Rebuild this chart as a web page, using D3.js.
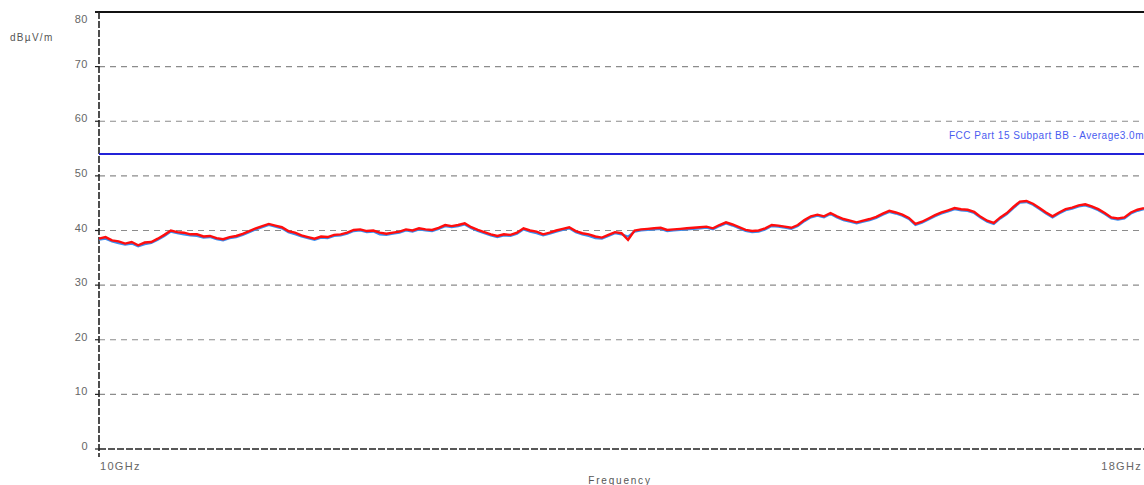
<!DOCTYPE html>
<html><head><meta charset="utf-8">
<script src="https://cdn.jsdelivr.net/npm/d3@7"></script>
<style>html,body{margin:0;padding:0;background:#fff;}svg{display:block;font-family:"Liberation Sans",Arial,sans-serif;}</style>
</head><body>
<svg id="c" width="1144" height="485"></svg>
<script>
const yTicks = [0,10,20,30,40,50,60,70,80];
const xLabels = [{f:10,text:"10GHz"},{f:18,text:"18GHz"}];
const limitValue = 54;
const limitLabel = "FCC Part 15 Subpart BB - Average3.0m";
const freqs = [10.00,10.05,10.10,10.15,10.20,10.25,10.30,10.35,10.40,10.45,10.50,10.55,10.60,10.65,10.70,10.75,10.80,10.85,10.90,10.95,
11.00,11.05,11.10,11.15,11.20,11.25,11.30,11.35,11.40,11.45,11.50,11.55,11.60,11.65,11.70,11.75,11.80,11.85,11.90,11.95,
12.00,12.05,12.10,12.15,12.20,12.25,12.30,12.35,12.40,12.45,12.50,12.55,12.60,12.65,12.70,12.75,12.80,12.85,12.90,12.95,
13.00,13.05,13.10,13.15,13.20,13.25,13.30,13.35,13.40,13.45,13.50,13.55,13.60,13.65,13.70,13.75,13.80,13.85,13.90,13.95,
14.00,14.05,14.10,14.15,14.20,14.25,14.30,14.35,14.40,14.45,14.50,14.55,14.60,14.65,14.70,14.75,14.80,14.85,14.90,14.95,
15.00,15.05,15.10,15.15,15.20,15.25,15.30,15.35,15.40,15.45,15.50,15.55,15.60,15.65,15.70,15.75,15.80,15.85,15.90,15.95,
16.00,16.05,16.10,16.15,16.20,16.25,16.30,16.35,16.40,16.45,16.50,16.55,16.60,16.65,16.70,16.75,16.80,16.85,16.90,16.95,
17.00,17.05,17.10,17.15,17.20,17.25,17.30,17.35,17.40,17.45,17.50,17.55,17.60,17.65,17.70,17.75,17.80,17.85,17.90,17.95,18.00];
const redVals = [38.5,38.8,38.2,38.0,37.6,37.9,37.3,37.8,37.9,38.5,39.2,40.0,39.7,39.6,39.3,39.3,38.9,39.0,38.6,38.4,
38.8,39.0,39.4,39.9,40.4,40.8,41.2,40.9,40.6,39.9,39.6,39.1,38.8,38.5,38.9,38.8,39.2,39.3,39.6,40.1,
40.2,39.9,40.0,39.6,39.4,39.6,39.8,40.2,40.0,40.4,40.2,40.1,40.5,41.0,40.8,41.0,41.3,40.6,40.1,39.7,
39.3,39.0,39.3,39.2,39.6,40.4,40.0,39.8,39.3,39.6,40.0,40.3,40.6,39.9,39.5,39.3,38.9,38.7,39.2,39.7,
39.5,38.3,40.0,40.2,40.3,40.4,40.5,40.1,40.2,40.3,40.4,40.5,40.6,40.7,40.4,41.0,41.5,41.1,40.6,40.1,
39.9,40.0,40.4,41.0,40.9,40.7,40.5,41.0,41.9,42.6,42.9,42.6,43.2,42.6,42.1,41.8,41.5,41.8,42.1,42.5,
43.1,43.6,43.3,42.9,42.3,41.2,41.6,42.2,42.8,43.3,43.7,44.1,43.9,43.8,43.4,42.5,41.8,41.4,42.4,43.2,
44.3,45.3,45.4,44.9,44.1,43.3,42.6,43.3,43.9,44.2,44.6,44.8,44.4,43.9,43.2,42.4,42.2,42.4,43.3,43.8,44.1];
const blueVals = [38.3,38.5,38.0,37.7,37.4,37.6,37.1,37.5,37.7,38.3,39.0,39.8,39.5,39.3,39.1,39.0,38.7,38.8,38.4,38.2,
38.6,38.8,39.2,39.7,40.2,40.6,41.0,40.7,40.4,39.7,39.3,38.9,38.6,38.3,38.7,38.6,39.0,39.1,39.4,39.9,
40.0,39.7,39.8,39.3,39.2,39.4,39.6,40.0,39.8,40.2,40.0,39.9,40.3,40.8,40.6,40.8,41.1,40.4,39.9,39.5,
39.1,38.8,39.1,39.0,39.4,40.2,39.8,39.5,39.1,39.4,39.8,40.1,40.4,39.7,39.3,39.0,38.6,38.5,39.0,39.5,
39.3,38.9,39.8,40.0,40.1,40.2,40.3,39.9,40.0,40.1,40.2,40.3,40.4,40.5,40.2,40.8,41.3,40.9,40.4,39.9,
39.7,39.8,40.2,40.8,40.7,40.5,40.3,40.8,41.7,42.4,42.7,42.4,43.0,42.4,41.9,41.6,41.3,41.6,41.9,42.3,
42.9,43.4,43.1,42.7,42.1,41.0,41.4,42.0,42.6,43.1,43.5,43.9,43.7,43.6,43.2,42.3,41.6,41.2,42.2,43.0,
44.1,45.1,45.2,44.7,43.9,43.1,42.4,43.1,43.7,44.0,44.4,44.6,44.2,43.7,43.0,42.2,42.0,42.2,43.1,43.6,43.9];

const svg = d3.select("#c");
const x = d3.scaleLinear().domain([10,18]).range([99,1144]);
const y = d3.scaleLinear().domain([0,80]).range([449,12]);

// gridlines
svg.append("g").selectAll("line").data(yTicks.filter(t=>t>0 && t<80)).join("line")
  .attr("x1",99).attr("x2",1144).attr("y1",d=>y(d)).attr("y2",d=>y(d))
  .attr("stroke","#8c8c8c").attr("stroke-width",1.2).attr("stroke-dasharray","6,5");

// top border
svg.append("line").attr("x1",95).attr("x2",1144).attr("y1",y(80)).attr("y2",y(80))
  .attr("stroke","#111").attr("stroke-width",2);

// bottom axis (dashed)
svg.append("line").attr("x1",99).attr("x2",1144).attr("y1",y(0)).attr("y2",y(0))
  .attr("stroke","#222").attr("stroke-width",1.6).attr("stroke-dasharray","7,2");
// left axis (dashed)
svg.append("line").attr("x1",99).attr("x2",99).attr("y1",y(80)).attr("y2",y(0)+8)
  .attr("stroke","#222").attr("stroke-width",1.6).attr("stroke-dasharray","7,2");

// y tick marks and labels
const yg = svg.append("g");
yg.selectAll("line").data(yTicks).join("line")
  .attr("x1",95).attr("x2",99).attr("y1",d=>y(d)).attr("y2",d=>y(d))
  .attr("stroke","#222").attr("stroke-width",1.2);
yg.selectAll("text").data(yTicks).join("text")
  .attr("x",88).attr("y",d=>d===80 ? y(d)+11 : y(d)+1).attr("text-anchor","end")
  .attr("font-size",11).attr("fill","#666").attr("letter-spacing","0.5").text(d=>d);

// y unit label
svg.append("text").attr("x",10).attr("y",41).attr("font-size",10).attr("fill","#555")
  .attr("letter-spacing","1.3").text("dBµV/m");

// x labels
svg.append("g").selectAll("text").data(xLabels).join("text")
  .attr("x",d=>x(d.f)+(d.f===10?1:-2)).attr("y",470)
  .attr("text-anchor",d=>d.f===10?"start":"end")
  .attr("font-size",11).attr("fill","#666").attr("letter-spacing","1.3").text(d=>d.text);
svg.append("text").attr("x",620).attr("y",484).attr("text-anchor","middle")
  .attr("font-size",10).attr("fill","#555").attr("letter-spacing","1.8").text("Frequency");

// limit line
svg.append("line").attr("x1",99).attr("x2",1144).attr("y1",y(limitValue)).attr("y2",y(limitValue))
  .attr("stroke","#2323d8").attr("stroke-width",2);
svg.append("text").attr("x",1144).attr("y",139).attr("text-anchor","end")
  .attr("font-size",10).attr("fill","#4a5cf0").attr("letter-spacing","0.5").text(limitLabel);

// traces
const line = d3.line().x(d=>x(d[0])).y(d=>y(d[1]));
svg.append("path").datum(freqs.map((f,i)=>[f,blueVals[i]]))
  .attr("d",line).attr("fill","none").attr("stroke","#3a8ef0").attr("stroke-width",2.2)
  .attr("stroke-linejoin","miter");
svg.append("path").datum(freqs.map((f,i)=>[f,redVals[i]]))
  .attr("d",line).attr("fill","none").attr("stroke","#ff0d0d").attr("stroke-width",2.4)
  .attr("stroke-linejoin","miter");
</script>
</body></html>
